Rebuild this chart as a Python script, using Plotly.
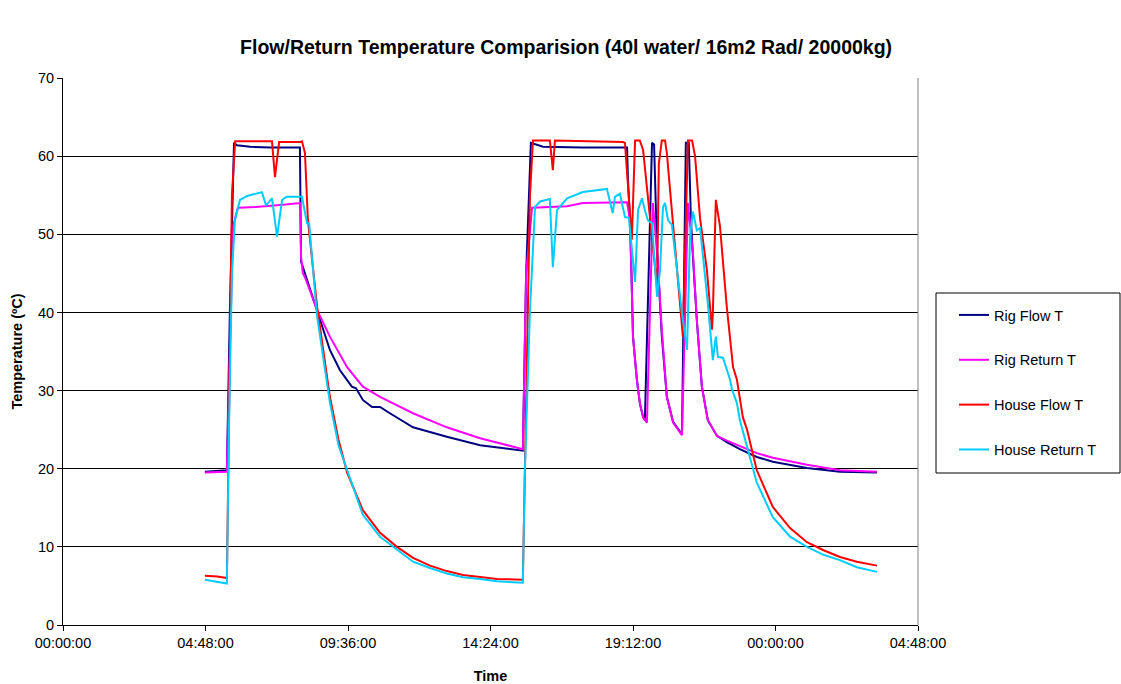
import pandas as pd
import plotly.graph_objects as go

# ---- data (time in hours from 00:00:00, temperature in degC) ----
rig_flow_h = [4.78, 5.52, 5.62, 5.76, 5.86, 6.30, 7.00, 7.98, 8.02, 8.08, 8.15, 8.56, 8.99, 9.33,
              9.73, 9.87, 10.10, 10.41, 10.68, 11.01, 11.79, 12.93, 14.05, 15.49, 15.60, 15.76,
              16.17, 17.50, 19.00, 19.03, 19.10, 19.16, 19.20, 19.33, 19.43, 19.54, 19.60, 19.84,
              19.91, 20.01, 20.11, 20.17, 20.34, 20.55, 20.85, 20.98, 21.08, 21.15, 21.22, 21.35,
              21.52, 21.72, 22.03, 22.36, 22.80, 23.37, 23.91, 25.06, 26.17, 27.42]
rig_flow_t = [19.6, 19.8, 40.0, 61.7, 61.4, 61.2, 61.1, 61.1, 46.5, 45.8, 44.8, 40.0, 35.2, 32.6,
              30.5, 30.3, 28.8, 27.9, 27.9, 27.1, 25.3, 24.1, 23.0, 22.3, 45.0, 61.7,
              61.2, 61.1, 61.1, 57.0, 51.8, 43.3, 36.9, 31.4, 28.4, 26.6, 26.2, 61.7,
              61.5, 48.0, 40.0, 37.0, 29.2, 26.0, 24.4, 61.7, 61.7, 52.0, 47.0, 39.0,
              30.5, 26.2, 24.2, 23.4, 22.5, 21.5, 20.9, 20.1, 19.6, 19.5]

rig_return_h = [4.78, 5.52, 5.62, 5.73, 5.89, 6.50, 7.50, 7.98, 8.02, 8.08, 8.15, 8.56, 8.99,
                9.57, 10.10, 10.68, 11.79, 12.93, 14.05, 15.49, 15.60, 15.80, 16.40, 16.98,
                17.51, 19.00, 19.10, 19.16, 19.20, 19.33, 19.43, 19.54, 19.67, 19.87, 20.04,
                20.17, 20.34, 20.55, 20.85, 21.05, 21.22, 21.35, 21.52, 21.72, 22.03, 22.36,
                22.80, 23.37, 23.91, 25.06, 26.17, 27.42]
rig_return_t = [19.5, 19.6, 35.0, 51.0, 53.4, 53.5, 53.8, 54.0, 47.0, 45.0, 44.5, 40.3, 36.9,
                33.0, 30.5, 29.2, 27.1, 25.3, 23.9, 22.5, 45.0, 53.4, 53.5, 53.6,
                54.0, 54.1, 51.8, 43.3, 36.9, 31.4, 28.4, 26.6, 25.9, 54.0, 46.3,
                37.8, 29.2, 25.9, 24.3, 54.0, 47.6, 39.0, 30.5, 26.2, 24.2, 23.6,
                22.9, 22.0, 21.4, 20.5, 19.8, 19.6]

house_flow_h = [4.78, 5.20, 5.52, 5.60, 5.69, 5.80, 7.04, 7.14, 7.28, 7.98, 8.05, 8.15, 8.25,
                8.56, 8.99, 9.28, 9.57, 10.10, 10.68, 11.25, 11.79, 12.36, 12.93, 13.47, 14.05,
                14.62, 15.49, 15.56, 15.73, 15.83, 16.40, 16.50, 16.57, 18.86, 18.93, 19.16,
                19.27, 19.43, 19.54, 20.01, 20.07, 20.17, 20.28, 20.34, 20.88, 21.05, 21.19,
                21.29, 21.46, 21.69, 21.86, 21.89, 21.99, 22.13, 22.36, 22.57, 22.70, 22.90,
                23.04, 23.37, 23.91, 24.49, 25.06, 25.60, 26.17, 26.74, 27.42]
house_flow_t = [6.3, 6.2, 6.0, 30.0, 55.0, 61.9, 61.9, 57.3, 61.8, 61.8, 61.9, 60.4, 51.8,
                40.7, 29.2, 23.7, 19.5, 14.7, 11.8, 10.0, 8.6, 7.6, 6.9, 6.4, 6.1,
                5.9, 5.8, 20.0, 55.0, 62.0, 62.0, 58.2, 62.0, 61.8, 61.7, 49.3,
                62.0, 62.0, 60.8, 43.3, 59.0, 62.0, 62.0, 60.4, 36.9, 62.0, 62.0,
                60.0, 52.0, 45.4, 37.8, 40.0, 54.4, 51.0, 40.7, 33.0, 31.4, 26.6,
                25.0, 19.8, 15.1, 12.4, 10.6, 9.6, 8.7, 8.1, 7.6]

house_return_h = [4.78, 5.46, 5.52, 5.59, 5.69, 5.79, 5.96, 6.20, 6.70, 6.84, 7.04, 7.21, 7.38,
                  7.54, 8.05, 8.22, 8.29, 8.56, 8.99, 9.28, 9.57, 10.10, 10.68, 11.25, 11.79,
                  12.36, 12.93, 13.47, 14.05, 14.62, 15.49, 15.56, 15.73, 15.90, 16.07, 16.40,
                  16.50, 16.64, 16.98, 17.51, 18.09, 18.32, 18.52, 18.59, 18.76, 18.93, 19.06,
                  19.27, 19.37, 19.50, 19.60, 19.70, 19.84, 20.01, 20.11, 20.21, 20.28, 20.38,
                  20.51, 20.85, 21.02, 21.12, 21.22, 21.35, 21.46, 21.72, 21.89, 21.99, 22.06,
                  22.23, 22.47, 22.53, 22.70, 22.80, 23.37, 23.91, 24.49, 25.06, 25.60, 26.17,
                  26.74, 27.42]
house_return_t = [5.8, 5.4, 5.3, 25.0, 45.0, 51.8, 54.4, 54.9, 55.4, 53.7, 54.6, 49.7, 54.4,
                  54.8, 54.8, 51.4, 51.4, 39.5, 28.5, 23.0, 19.8, 14.1, 11.3, 9.6, 8.1,
                  7.3, 6.6, 6.1, 5.9, 5.6, 5.4, 20.0, 40.3, 53.5, 54.2, 54.5,
                  45.8, 53.1, 54.6, 55.4, 55.7, 55.8, 52.7, 54.8, 55.2, 52.2, 52.1,
                  43.9, 53.1, 54.6, 53.1, 51.8, 51.4, 42.0, 45.4, 53.5, 54.0, 51.8,
                  51.2, 39.9, 35.2, 49.7, 52.9, 50.5, 50.8, 41.2, 33.9, 36.9, 34.3,
                  34.2, 31.4, 30.2, 28.4, 26.2, 18.2, 13.8, 11.3, 10.0, 9.0, 8.3,
                  7.4, 6.8]

series_names = ["Rig Flow T", "Rig Return T", "House Flow T", "House Return T"]
series_colors = ["#000080", "#FF00FF", "#FF0000", "#00CCFF"]

y_ticks = [0, 10, 20, 30, 40, 50, 60, 70]

base = pd.Timestamp("2000-01-01 00:00:00")


def to_time(hours):
    return [base + pd.Timedelta(hours=h) for h in hours]


data = [
    (rig_flow_h, rig_flow_t),
    (rig_return_h, rig_return_t),
    (house_flow_h, house_flow_t),
    (house_return_h, house_return_t),
]

fig = go.Figure()
for (hh, tt), name, col in zip(data, series_names, series_colors):
    fig.add_trace(go.Scatter(
        x=to_time(hh), y=tt, mode="lines", name=name, legendgroup=name,
        line=dict(color=col, width=2),
    ))

font = "Liberation Sans, Arial, sans-serif"
fs = 14.5
fig.update_layout(
    width=1121, height=684,
    margin=dict(l=63, r=203, t=78, b=59, autoexpand=False),
    paper_bgcolor="white", plot_bgcolor="white",
    font=dict(family=font, size=fs, color="black"),
    title=dict(text="<b>Flow/Return Temperature Comparision (40l water/ 16m2 Rad/ 20000kg)</b>",
               x=0.505, xref="container", xanchor="center",
               y=1 - 47 / 684, yref="container", yanchor="middle",
               font=dict(size=19.5, family=font, color="black")),
    showlegend=True,
    legend=dict(x=(954 - 63) / 855, xanchor="left", y=(625 - 299) / 547, yanchor="top",
                borderwidth=0, bgcolor="rgba(0,0,0,0)",
                font=dict(size=fs, family=font), tracegroupgap=23,
                itemwidth=30),
)

fig.update_xaxes(
    type="date", automargin=False,
    range=[base, base + pd.Timedelta(hours=28.8)],
    tick0=base, dtick=4.8 * 3600 * 1000, tickformat="%H:%M:%S",
    showgrid=False, zeroline=False,
    showline=True, linecolor="black", linewidth=1,
    ticks="outside", ticklen=5, tickcolor="black",
    title=dict(text="<b>Time</b>", font=dict(size=fs, family=font), standoff=20),
)
fig.update_yaxes(
    range=[0, 70], tickvals=y_ticks, automargin=False,
    showgrid=True, gridcolor="black", gridwidth=1, zeroline=False,
    showline=True, linecolor="black", linewidth=1,
    ticks="outside", ticklen=5, tickcolor="black",
    title=dict(text="<b>Temperature (ºC)</b>", font=dict(size=fs, family=font), standoff=11),
)

# plot-area right border (grey) and legend frame
fig.add_shape(type="line", xref="paper", yref="paper", x0=1, x1=1, y0=0, y1=1,
              line=dict(color="#808080", width=1))
fig.add_shape(type="rect", xref="paper", yref="paper",
              x0=(936 - 63) / 855, x1=(1120 - 63) / 855,
              y0=(625 - 473) / 547, y1=(625 - 293) / 547,
              line=dict(color="black", width=1), fillcolor="rgba(0,0,0,0)")

fig.write_html("out.html")
